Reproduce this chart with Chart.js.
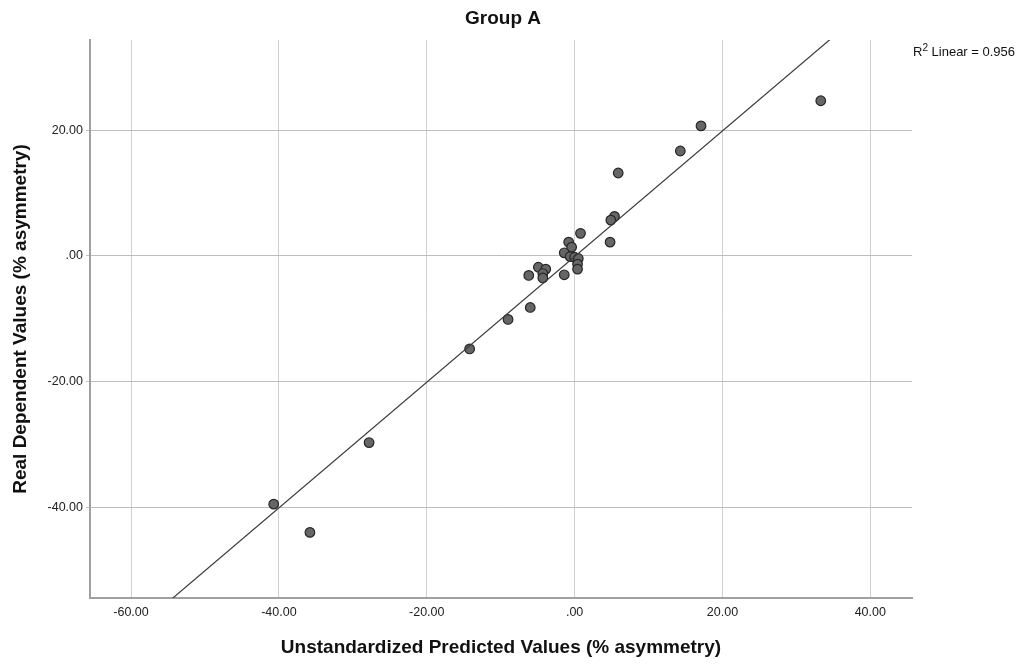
<!DOCTYPE html>
<html>
<head>
<meta charset="utf-8">
<title>Group A</title>
<script src="https://cdn.jsdelivr.net/npm/chart.js@4.4.1/dist/chart.umd.min.js"></script>
<style>
  html, body { margin: 0; padding: 0; background: #fff; }
</style>
</head>
<body>
<canvas id="chart" width="1021" height="664"></canvas>
<script>
// ===== DATA =====
// predicted (x) and real (y) values
const predicted = [33.3, 17.1, 14.3, 5.9, 5.4, 4.9, 0.8, 4.8, -0.8, -0.4,
  -1.4, -0.6, 0.0, 0.5, 0.4, 0.4, -4.9, -3.9, -4.3, -4.3,
  -6.2, -1.4, -6.0, -9.0, -14.2, -27.8, -40.7, -35.8];
const realValues = [24.7, 20.7, 16.7, 13.2, 6.3, 5.7, 3.6, 2.2, 2.2, 1.4,
  0.5, -0.1, -0.2, -0.4, -1.3, -2.1, -1.8, -2.1, -2.8, -3.5,
  -3.1, -3.0, -8.2, -10.1, -14.8, -29.7, -39.5, -44.0];

const xTicks = [-60, -40, -20, 0, 20, 40];
const yTicks = [-40, -20, 0, 20];

// linear fit line as drawn in the picture
const fitSlope = 1.0;
const fitIntercept = -0.1;
const r2Value = "0.956";

const chartTitle = "Group A";
const xTitle = "Unstandardized Predicted Values (% asymmetry)";
const yTitle = "Real Dependent Values (% asymmetry)";

// ===== SETUP =====
const FONT = '"Liberation Sans", Arial, sans-serif';
const X_MIN = -65.55, X_MAX = 45.64;
const Y_MIN = -54.44, Y_MAX = 34.37;

const points = predicted.map((x, i) => ({ x: x, y: realValues[i] }));
const fitPoints = [X_MIN, X_MAX].map(x => ({ x: x, y: fitSlope * x + fitIntercept }));

function fmt(v) {
  return v === 0 ? ".00" : v.toFixed(2);
}

// title and R2 label
const textPlugin = {
  id: "textPlugin",
  afterDraw(chart) {
    const ctx = chart.ctx;
    ctx.save();
    ctx.fillStyle = "#111";
    ctx.textBaseline = "alphabetic";

    ctx.font = "bold 19px " + FONT;
    ctx.textAlign = "center";
    ctx.fillText(chartTitle, 503, 24);

    ctx.textAlign = "left";
    let x = 913;
    ctx.font = "13px " + FONT;
    ctx.fillText("R", x, 56);
    x += ctx.measureText("R").width;
    ctx.font = "10px " + FONT;
    ctx.fillText("2", x, 51);
    x += ctx.measureText("2").width;
    ctx.font = "13px " + FONT;
    ctx.fillText(" Linear = " + r2Value, x, 56);
    ctx.restore();
  }
};

new Chart(document.getElementById("chart"), {
  type: "scatter",
  data: {
    datasets: [
      {
        type: "line",
        data: fitPoints,
        borderColor: "#3a3a3a",
        borderWidth: 1.2,
        pointRadius: 0,
        fill: false,
        order: 0
      },
      {
        data: points,
        backgroundColor: "#666666",
        borderColor: "#262626",
        borderWidth: 1.2,
        pointRadius: 4.8,
        pointHoverRadius: 4.8,
        order: 1
      }
    ]
  },
  options: {
    responsive: false,
    animation: false,
    devicePixelRatio: 1,
    layout: { padding: { top: 40, right: 109, left: 0, bottom: 0 } },
    plugins: {
      legend: { display: false },
      tooltip: { enabled: false },
      title: { display: false }
    },
    scales: {
      x: {
        type: "linear",
        min: X_MIN,
        max: X_MAX,
        afterBuildTicks: s => { s.ticks = xTicks.map(v => ({ value: v })); },
        afterFit: s => { s.height = 66; },
        grid: { color: "#d0d0d0", lineWidth: 1, drawTicks: false },
        border: { color: "#a0a0a0", width: 2 },
        ticks: {
          callback: v => fmt(v),
          font: { family: FONT, size: 12.5 },
          color: "#222",
          padding: 7,
          maxRotation: 0,
          autoSkip: false
        },
        title: {
          display: true,
          text: xTitle,
          font: { family: FONT, size: 19, weight: "bold" },
          color: "#111",
          padding: { top: 0, bottom: 5 }
        }
      },
      y: {
        type: "linear",
        min: Y_MIN,
        max: Y_MAX,
        afterBuildTicks: s => { s.ticks = yTicks.map(v => ({ value: v })); },
        afterFit: s => { s.width = 90; },
        grid: { color: "#bdbdbd", lineWidth: 1, tickLength: 4 },
        border: { color: "#a0a0a0", width: 2 },
        ticks: {
          callback: v => fmt(v),
          font: { family: FONT, size: 12.5 },
          color: "#222",
          padding: 3,
          autoSkip: false
        },
        title: {
          display: true,
          text: yTitle,
          font: { family: FONT, size: 19, weight: "bold" },
          color: "#111",
          padding: { top: 9, bottom: 0 }
        }
      }
    }
  },
  plugins: [textPlugin]
});
</script>
</body>
</html>
